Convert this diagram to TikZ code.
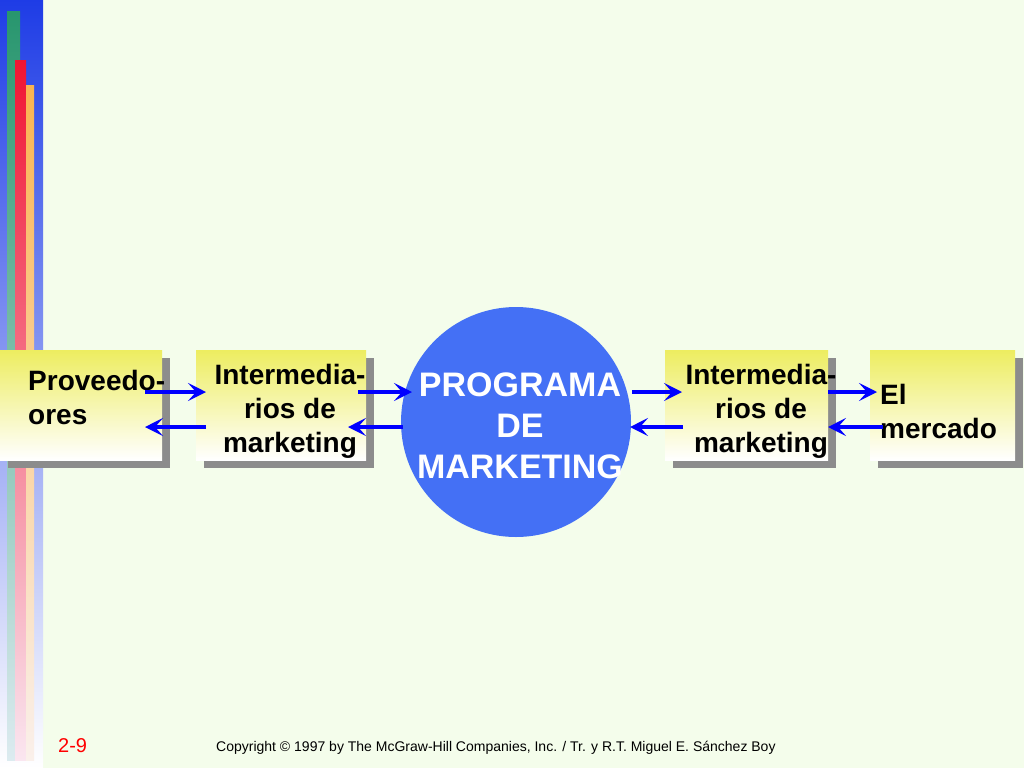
\documentclass[tikz,border=0pt]{standalone}
\usepackage{fontspec}
\setmainfont{Liberation Sans}
\usetikzlibrary{arrows.meta}
\definecolor{bg}{HTML}{F4FDEB}
\definecolor{ybox}{HTML}{EDED60}
\definecolor{circ}{HTML}{4470F5}
\definecolor{sh}{HTML}{8C8C8C}
\begin{document}
\begin{tikzpicture}[x=1pt,y=-1pt,
  shad/.style={fill=sh},
  txt/.style={font=\bfseries\fontsize{28}{34}\selectfont, align=center, inner sep=0},
  arr/.style={draw=blue, line width=4.5pt, -{Stealth[length=18pt,width=18pt,inset=8pt]}}]
\fill[bg] (0,0) rectangle (1024,768);
\useasboundingbox (0,0) rectangle (1024,768);
% left bars
\shade[top color={rgb,255:red,30;green,60;blue,230}, bottom color=white] (0,0) rectangle (43,768);
\shade[top color={rgb,255:red,40;green,150;blue,110}, bottom color={rgb,255:red,220;green,235;blue,240}] (7,12) rectangle (20,760);
\shade[top color={rgb,255:red,240;green,20;blue,50}, bottom color={rgb,255:red,250;green,230;blue,240}] (15,60) rectangle (26,760);
\shade[top color={rgb,255:red,250;green,180;blue,80}, bottom color={rgb,255:red,250;green,240;blue,235}] (26,85) rectangle (34,760);
% boxes
\foreach \a/\b in {0/162,196/366,665/828,870/1015}{
  \fill[shad] (\a+8,358) rectangle (\b+8,468);
  \shade[top color=ybox, bottom color=white] (\a,350) rectangle (\b,460);
}
\node[txt, align=left, anchor=west] (p) at (28,397) {Proveedo-\\ores};
\node[txt] (i1) at (290,411) {Intermedia-\\rios de\\marketing};
\node[txt] (i2) at (761,411) {Intermedia-\\rios de\\marketing};
\node[txt, align=left, anchor=west] (m) at (880,411) {El\\mercado};
\fill[circ] (516,422) circle (115);
\node[txt, font=\bfseries\fontsize{34}{41}\selectfont, text=white] (c) at (520,426) {PROGRAMA\\DE\\MARKETING};
% arrows
\coordinate (a1) at (145,392); \coordinate (b1) at (206,392);
\coordinate (a2) at (206,427); \coordinate (b2) at (145,427);
\coordinate (a3) at (358,392); \coordinate (b3) at (412,392);
\coordinate (a4) at (403,427); \coordinate (b4) at (348,427);
\coordinate (a5) at (632,392); \coordinate (b5) at (682,392);
\coordinate (a6) at (683,427); \coordinate (b6) at (630,427);
\coordinate (a7) at (828,392); \coordinate (b7) at (877,392);
\coordinate (a8) at (883,427); \coordinate (b8) at (828,427);
\foreach \i in {1,...,8}{\draw[arr] (a\i) -- (b\i);}
% footer
\node[text=red, font=\fontsize{20}{22}\selectfont, anchor=west, inner sep=0] (pg) at (58,746) {2-9};
\node[font=\fontsize{14}{16}\selectfont, anchor=west, inner sep=0] (cp) at (216,748) {Copyright © 1997 by The McGraw-Hill Companies, Inc. / Tr. y R.T. Miguel E. Sánchez Boy};
\end{tikzpicture}
\end{document}
